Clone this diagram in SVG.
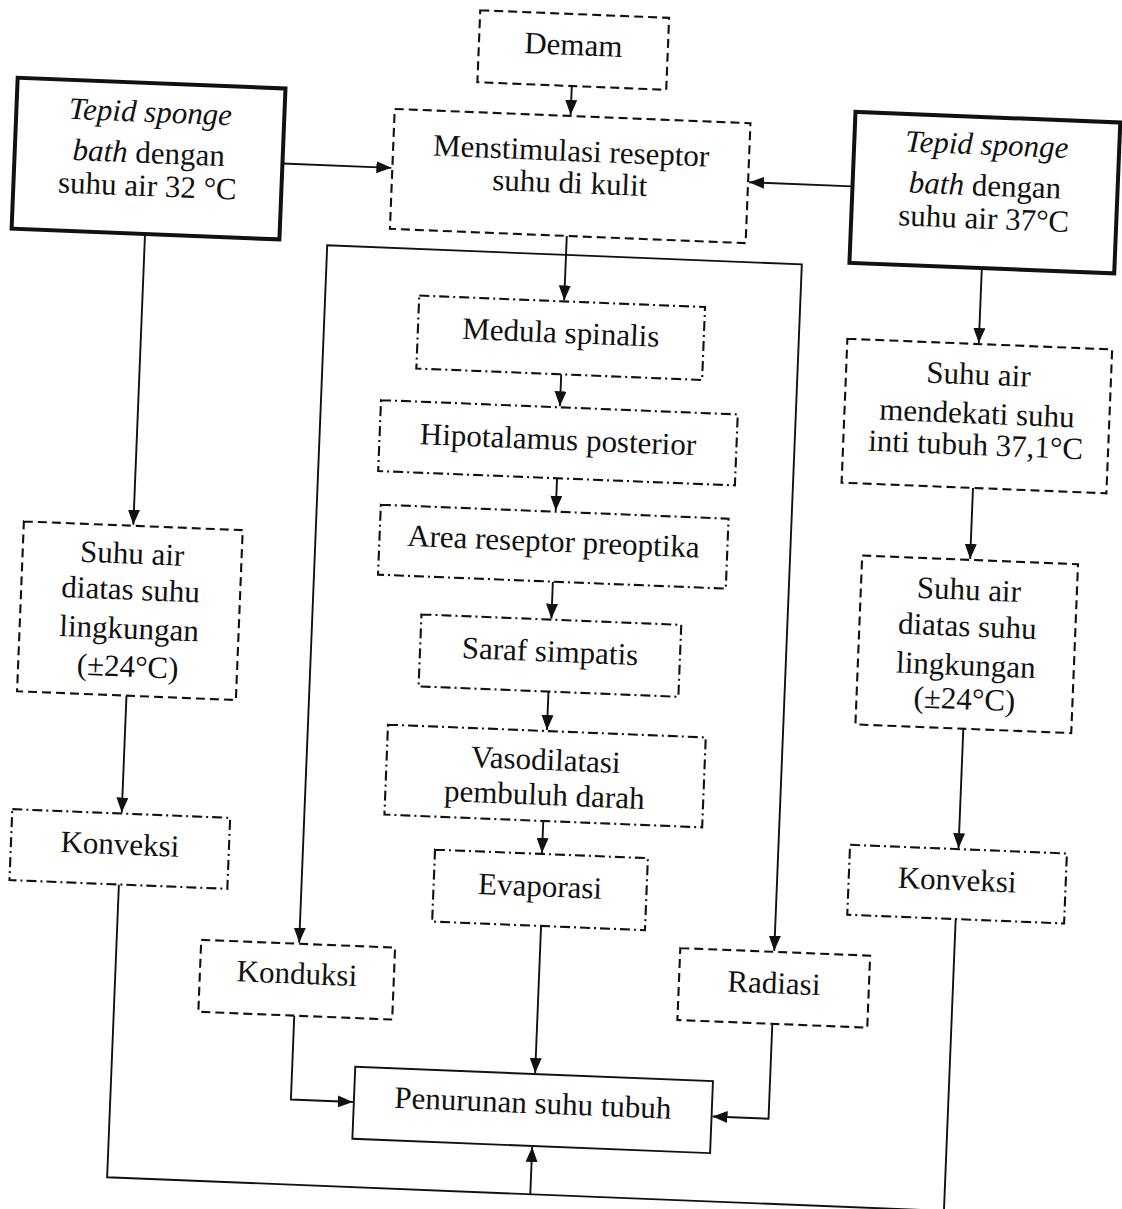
<svg xmlns="http://www.w3.org/2000/svg" width="1122" height="1209" viewBox="0 0 1122 1209">
<style>
  .t { font-family: "Liberation Serif", "Times New Roman", serif; font-size: 31px; fill: #111; text-anchor: middle; }
  .i { font-style: italic; }
  .thick { fill: #fff; stroke: #111; stroke-width: 4; }
  .solid { fill: #fff; stroke: #111; stroke-width: 1.9; }
  .dash { fill: #fff; stroke: #111; stroke-width: 2.1; stroke-dasharray: 9 5; }
  .dashdot { fill: #fff; stroke: #111; stroke-width: 2.1; stroke-dasharray: 10 4 2 4; }
  .c { fill: none; stroke: #111; stroke-width: 1.9; }
</style>
<defs>
  <marker id="ah" markerUnits="userSpaceOnUse" markerWidth="16" markerHeight="14" refX="15" refY="6" orient="auto">
    <path d="M0,0 L15,6 L0,12 z" fill="#111"/>
  </marker>
</defs>
<rect width="1122" height="1209" fill="#fff"/>
<g transform="rotate(2.3 561 604)">
  <g id="connectors">
    <path class="c" d="M551,86 V115" marker-end="url(#ah)"/>
    <path class="c" d="M265,175 H374" marker-end="url(#ah)"/>
    <path class="c" d="M835.5,175 H732" marker-end="url(#ah)"/>
    <path class="c" d="M552,236 V300.5" marker-end="url(#ah)"/>
    <path class="c" d="M552,255 H313 V953" marker-end="url(#ah)"/>
    <path class="c" d="M552,255 H788 V942" marker-end="url(#ah)"/>
    <path class="c" d="M552,374.5 V406.5" marker-end="url(#ah)"/>
    <path class="c" d="M552,478.5 V511" marker-end="url(#ah)"/>
    <path class="c" d="M552,582 V619" marker-end="url(#ah)"/>
    <path class="c" d="M552,692 V730.5" marker-end="url(#ah)"/>
    <path class="c" d="M552,821.5 V853.5" marker-end="url(#ah)"/>
    <path class="c" d="M554,926.5 V1073.7" marker-end="url(#ah)"/>
    <path class="c" d="M311,1026 V1110 H373" marker-end="url(#ah)"/>
    <path class="c" d="M789,1015 V1110 H733" marker-end="url(#ah)"/>
    <path class="c" d="M130.5,250.5 V542" marker-end="url(#ah)"/>
    <path class="c" d="M130.5,713 V830" marker-end="url(#ah)"/>
    <path class="c" d="M968,251.5 V326.5" marker-end="url(#ah)"/>
    <path class="c" d="M968,471.5 V542.5" marker-end="url(#ah)"/>
    <path class="c" d="M968,712.5 V832" marker-end="url(#ah)"/>
    <path class="c" d="M130.5,902 V1195 H968 V903"/>
    <path class="c" d="M554,1195 V1147.7" marker-end="url(#ah)"/>
  </g>
  <g id="demam">
    <rect class="dash" x="456.5" y="14" width="189" height="72"/>
    <text class="t" x="551" y="55">Demam</text>
  </g>
  <g id="menstimulasi">
    <rect class="dash" x="375" y="116" width="356" height="120"/>
    <text class="t" x="553" y="161">Menstimulasi reseptor</text>
    <text class="t" x="553" y="193">suhu di kulit</text>
  </g>
  <g id="tepid32">
    <rect class="thick" x="-3" y="100" width="268" height="151"/>
    <text class="t i" x="131" y="139">Tepid sponge</text>
    <text class="t" x="131" y="180"><tspan class="i">bath</tspan> dengan</text>
    <text class="t" x="131" y="213">suhu air 32 °C</text>
  </g>
  <g id="tepid37">
    <rect class="thick" x="835.5" y="100.5" width="265" height="151"/>
    <text class="t i" x="968" y="138">Tepid sponge</text>
    <text class="t" x="968" y="179"><tspan class="i">bath</tspan> dengan</text>
    <text class="t" x="968" y="212">suhu air 37°C</text>
  </g>
  <g id="medula">
    <rect class="dashdot" x="407" y="301.5" width="286" height="73"/>
    <text class="t" x="550" y="343">Medula spinalis</text>
  </g>
  <g id="hipotalamus">
    <rect class="dashdot" x="373" y="407.5" width="357" height="71"/>
    <text class="t" x="551.5" y="450">Hipotalamus posterior</text>
  </g>
  <g id="area">
    <rect class="dashdot" x="377" y="512" width="348" height="70"/>
    <text class="t" x="551" y="552">Area reseptor preoptika</text>
  </g>
  <g id="saraf">
    <rect class="dashdot" x="422" y="620" width="260" height="72"/>
    <text class="t" x="552" y="662">Saraf simpatis</text>
  </g>
  <g id="vasodilatasi">
    <rect class="dashdot" x="393" y="731.5" width="318" height="90"/>
    <text class="t" x="552" y="770.5">Vasodilatasi</text>
    <text class="t" x="552" y="805.5">pembuluh darah</text>
  </g>
  <g id="evaporasi">
    <rect class="dashdot" x="445" y="854.5" width="213" height="72"/>
    <text class="t" x="551.5" y="897">Evaporasi</text>
  </g>
  <g id="penurunan">
    <rect class="solid" x="374" y="1074.7" width="358" height="72"/>
    <text class="t" x="553" y="1114">Penurunan suhu tubuh</text>
  </g>
  <g id="konduksi">
    <rect class="dash" x="215" y="954" width="194" height="72"/>
    <text class="t" x="312" y="994">Konduksi</text>
  </g>
  <g id="radiasi">
    <rect class="dash" x="694" y="943" width="190" height="72"/>
    <text class="t" x="789" y="984.5">Radiasi</text>
  </g>
  <g id="suhu-kiri">
    <rect class="dash" x="21" y="543" width="219" height="170"/>
    <text class="t" x="130.5" y="581">Suhu air</text>
    <text class="t" x="130.5" y="617">diatas suhu</text>
    <text class="t" x="130.5" y="656">lingkungan</text>
    <text class="t" x="130.5" y="694">(±24°C)</text>
  </g>
  <g id="konveksi-kiri">
    <rect class="dashdot" x="21" y="831" width="218" height="71"/>
    <text class="t" x="130" y="872">Konveksi</text>
  </g>
  <g id="mendekati">
    <rect class="dash" x="836.5" y="327.5" width="265" height="144"/>
    <text class="t" x="969" y="368">Suhu air</text>
    <text class="t" x="969" y="407">mendekati suhu</text>
    <text class="t" x="969" y="438.5">inti tubuh 37,1°C</text>
  </g>
  <g id="suhu-kanan">
    <rect class="dash" x="860" y="543.5" width="216" height="169"/>
    <text class="t" x="968" y="583.5">Suhu air</text>
    <text class="t" x="968" y="620">diatas suhu</text>
    <text class="t" x="968" y="659">lingkungan</text>
    <text class="t" x="968" y="693">(±24°C)</text>
  </g>
  <g id="konveksi-kanan">
    <rect class="dashdot" x="859.5" y="833" width="217" height="70"/>
    <text class="t" x="968" y="874">Konveksi</text>
  </g>
</g>
</svg>
